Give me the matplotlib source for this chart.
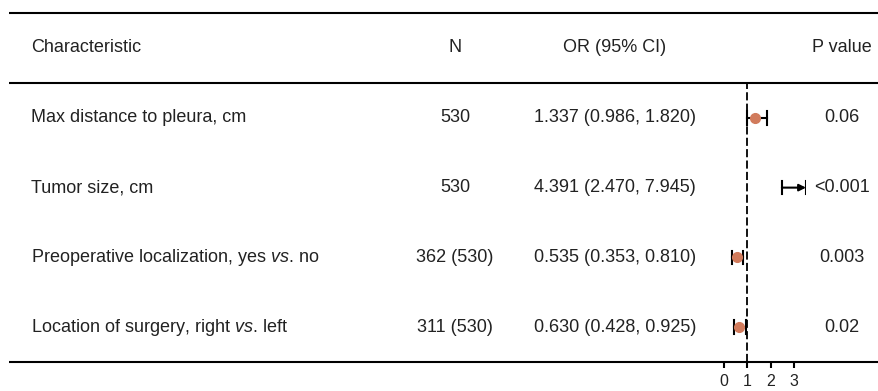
import numpy as np
import matplotlib
matplotlib.use('Agg')
import matplotlib.pyplot as plt

plt.rcParams['font.family'] = ['Liberation Sans', 'DejaVu Sans']
plt.rcParams['mathtext.fontset'] = 'custom'
plt.rcParams['mathtext.it'] = 'Liberation Sans:italic'
plt.rcParams['mathtext.rm'] = 'Liberation Sans'

#%% data
characteristics = ["Max distance to pleura, cm",
                   "Tumor size, cm",
                   r"Preoperative localization, yes $\it{vs.}\,$no",
                   r"Location of surgery, right $\it{vs.}\,$left"]
n_labels = ["530", "530", "362 (530)", "311 (530)"]
or_est = [1.337, 4.391, 0.535, 0.630]
ci_low = [0.986, 2.470, 0.353, 0.428]
ci_high = [1.820, 7.945, 0.810, 0.925]
p_labels = ["0.06", "<0.001", "0.003", "0.02"]
headers = ["Characteristic", "N", "OR (95% CI)", "P value"]
xticks = [0, 1, 2, 3]

#%% layout (pixels)
W, H = 879, 391
xmin, xmax = -0.5, 3.5
fx_left, fx_right = 712.3, 806
y_top_line, y_head_line, y_bot_line = 13, 83, 362
row_h = (y_bot_line - y_head_line) / len(characteristics)
col_x = [31, 455, 615, 842]
fs = 13
txt_color = '#222222'
pt_color = '#D17B5C'

fig = plt.figure(figsize=(W / 100, H / 100), dpi=100)

# table axes in pixel coords
tab = fig.add_axes([0, 0, 1, 1])
tab.set_xlim(0, W)
tab.set_ylim(H, 0)
tab.axis('off')

for y in [y_top_line, y_head_line, y_bot_line]:
    tab.plot([9, W], [y, y], color='black', lw=1.5, solid_capstyle='butt')

aligns = ['left', 'center', 'center', 'center']
yh = (y_top_line + y_head_line) / 2
for c in range(4):
    tab.text(col_x[c], yh, headers[c], ha=aligns[c], va='center',
             fontsize=fs, color=txt_color)

for i in range(len(characteristics)):
    y = y_head_line + row_h * (i + 0.5)
    or_str = "{:.3f} ({:.3f}, {:.3f})".format(or_est[i], ci_low[i], ci_high[i])
    cells = [characteristics[i], n_labels[i], or_str, p_labels[i]]
    for c in range(4):
        tab.text(col_x[c], y, cells[c], ha=aligns[c], va='center',
                 fontsize=fs, color=txt_color)

# forest axes
ax = fig.add_axes([fx_left / W, (H - y_bot_line) / H,
                   (fx_right - fx_left) / W, (y_bot_line - y_head_line) / H])
ax.set_xlim(xmin, xmax)
ax.set_ylim(len(characteristics) + 0.5, 0.5)
ax.patch.set_alpha(0)
for s in ax.spines.values():
    s.set_visible(False)
ax.set_yticks([])
ax.set_xticks(xticks)
ax.tick_params(axis='x', length=4.5, width=1.5, direction='out', pad=4.5,
               labelsize=11.5, labelcolor=txt_color)

ax.axvline(1, color='black', lw=1.3, ls=(0, (4.5, 1.8)), clip_on=False)

cap = 0.095
for i in range(len(characteristics)):
    y = i + 1
    lo = ci_low[i]
    hi = ci_high[i]
    if hi > xmax:
        ax.annotate('', xy=(xmax, y), xytext=(lo, y),
                    arrowprops=dict(arrowstyle='-|>', color='black', lw=1.5,
                                    mutation_scale=10, shrinkA=0, shrinkB=0))
        ax.plot([xmax, xmax], [y - cap, y + cap], color='black', lw=1.5)
    else:
        ax.plot([lo, hi], [y, y], color='black', lw=1.5)
        ax.plot([hi, hi], [y - cap, y + cap], color='black', lw=1.5)
    ax.plot([lo, lo], [y - cap, y + cap], color='black', lw=1.5)
    if or_est[i] <= xmax:
        ax.plot(or_est[i], y, 'o', color=pt_color, ms=7, zorder=3)

fig.savefig('out.png', dpi=100)
